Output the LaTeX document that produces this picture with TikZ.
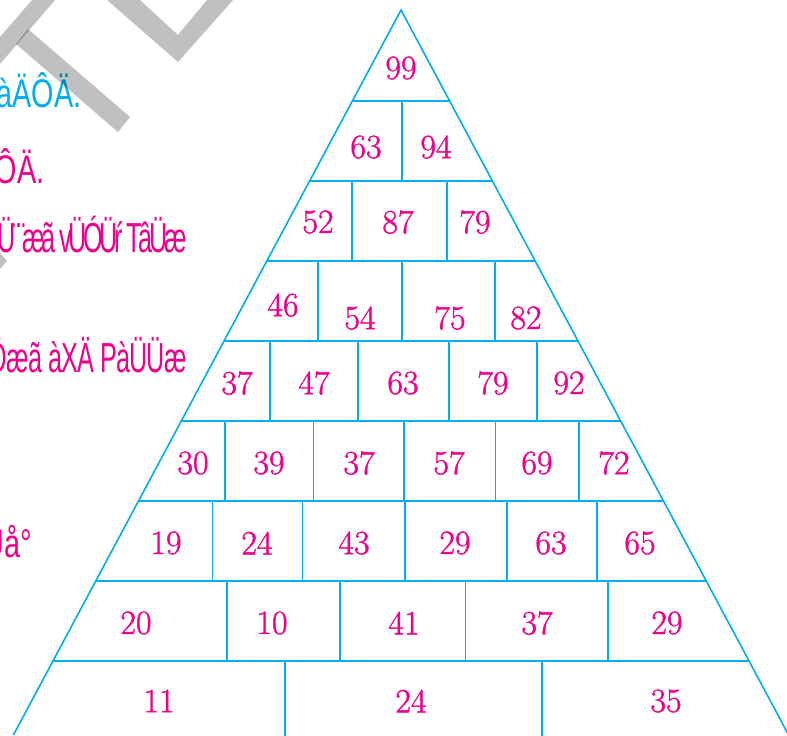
\documentclass[tikz,border=0pt]{standalone}
\usepackage{fontspec}
\usetikzlibrary{calc}
\newfontfamily\estrecha[FakeStretch=0.72]{Liberation Sans}
\newfontfamily\apretada[FakeStretch=0.6,LetterSpace=-8]{Liberation Sans}
\newfontfamily\holgada[FakeStretch=0.6,LetterSpace=-2]{Liberation Sans}
\newfontfamily\cifras[FakeBold=1.2]{Latin Modern Roman}
\definecolor{celeste}{RGB}{0,174,239}
\definecolor{rosa}{RGB}{236,0,140}
\definecolor{gris}{RGB}{192,192,192}
\begin{document}
\begin{tikzpicture}[
        x=0.5pt, y=-0.5pt,
        linea/.style={draw=celeste, line width=0.8pt},
        numero/.style={text=rosa, inner sep=0pt, font=\cifras\fontsize{17}{20}\selectfont},
        texto/.style={text=rosa, anchor=base east, inner sep=0pt, font=\estrecha\fontsize{20}{24}\selectfont},
        sello/.style={fill=gris}
    ]
        \useasboundingbox (0,0) rectangle (787,735);
        \clip (0,0) rectangle (787,735);

        % Textos de la izquierda
        \node[texto, text=celeste] (t1) at (82,107) {àÄÔÄ.};
        \node[texto] (t2) at (45,183) {ÔÄ.};
        \node[texto, font=\apretada\fontsize{21}{24}\selectfont] (t3) at (187,252) {Ü¨¨æã vÜÓÜŕ TâÜæ};
        \node[texto, font=\holgada\fontsize{21}{24}\selectfont] (t4) at (187,372) {Öæã àXÄ PàÜÜæ};
        \node[texto] (t5) at (32,557) {Üå°};

        % Marca de agua
        \begin{scope}[blend mode=multiply]
        \fill[sello] (32,0) -- (55,0) -- (0,64) -- (0,37) -- cycle;
        \fill[sello] (28,29) -- (130,117) -- (118,132) -- (16,44) -- cycle;
        \fill[sello] (107,0) -- (140,0) -- (178,35) -- (207,0) -- (233,0) -- (178,62) -- cycle;
        \fill[sello] (0,253) -- (7,261) -- (0,269) -- cycle;
        \end{scope}

        % Triangulo
        \coordinate (cima) at (401,10);
        \coordinate (izq) at (13.4,735);
        \coordinate (der) at (788.6,735);
        \draw[linea] (izq) -- (cima) -- (der);

        % Filas
        \foreach \y in {101,181,...,661} {
            \pgfmathsetmacro\t{(\y-10)/725}
            \draw[linea] ($(cima)!\t!(izq)$) -- ($(cima)!\t!(der)$);
        }

        % Divisiones
        \foreach \x in {402} \draw[linea] (\x,101) -- (\x,181);
        \foreach \x in {352,447} \draw[linea] (\x,181) -- (\x,261);
        \foreach \x in {318,402,495} \draw[linea] (\x,261) -- (\x,341);
        \foreach \x in {270,358,449,537} \draw[linea] (\x,341) -- (\x,421);
        \foreach \x in {225,313.5,404,495.5,579} \draw[linea] (\x,421) -- (\x,501);
        \foreach \x in {212.5,302.5,405,507,597} \draw[linea] (\x,501) -- (\x,581);
        \foreach \x in {227,340,465.5,608} \draw[linea] (\x,581) -- (\x,661);
        \foreach \x in {285,542} \draw[linea] (\x,661) -- (\x,740);

        % Numeros
        \node[numero] (a1) at (401,68) {99};

        \node[numero] (b1) at (366,147) {63};
        \node[numero] (b2) at (436,147) {94};

        \node[numero] (c1) at (318,222) {52};
        \node[numero] (c2) at (398,222) {87};
        \node[numero] (c3) at (475,222) {79};

        \node[numero] (d1) at (283,305) {46};
        \node[numero] (d2) at (360,318) {54};
        \node[numero] (d3) at (450,318) {75};
        \node[numero] (d4) at (526,318) {82};

        \node[numero] (e1) at (237,383) {37};
        \node[numero] (e2) at (314,383) {47};
        \node[numero] (e3) at (403,383) {63};
        \node[numero] (e4) at (493,383) {79};
        \node[numero] (e5) at (569,383) {92};

        \node[numero] (f1) at (193,463) {30};
        \node[numero] (f2) at (269,463) {39};
        \node[numero] (f3) at (359,463) {37};
        \node[numero] (f4) at (449,463) {57};
        \node[numero] (f5) at (537,463) {69};
        \node[numero] (f6) at (614,463) {72};

        \node[numero] (g1) at (166,543) {19};
        \node[numero] (g2) at (257,543) {24};
        \node[numero] (g3) at (354,543) {43};
        \node[numero] (g4) at (455,543) {29};
        \node[numero] (g5) at (551,543) {63};
        \node[numero] (g6) at (640,543) {65};

        \node[numero] (h1) at (136,623) {20};
        \node[numero] (h2) at (272,623) {10};
        \node[numero] (h3) at (404,623) {41};
        \node[numero] (h4) at (537,623) {37};
        \node[numero] (h5) at (667,623) {29};

        \node[numero] (i1) at (159,701) {11};
        \node[numero] (i2) at (411,701) {24};
        \node[numero] (i3) at (666,701) {35};
\end{tikzpicture}
\end{document}
